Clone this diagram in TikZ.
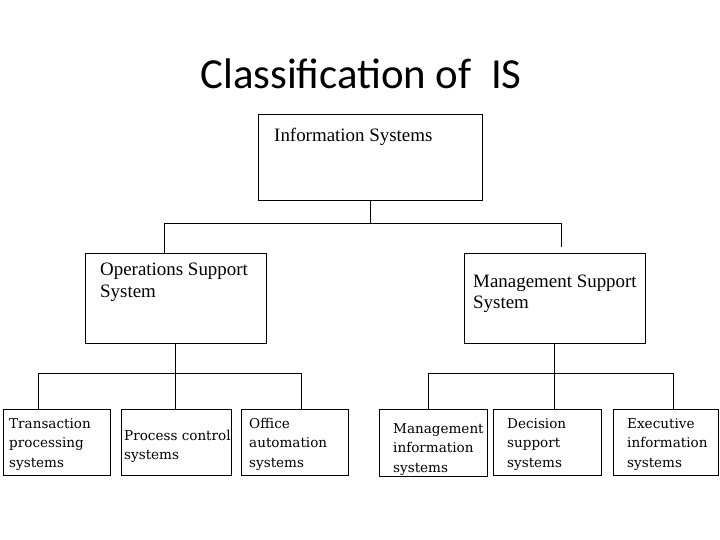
\documentclass[tikz,border=0pt]{standalone}
\usepackage{fontspec}
\setmainfont{Liberation Serif}
\newfontfamily\titlefont{Carlito}
\newfontfamily\leaffont{DejaVu Serif}
\tikzset{
  box/.style={draw, line width=1pt, inner sep=0pt},
  boxtext/.style={anchor=base west, align=left, inner sep=0pt, font=\fontsize{19}{22}\selectfont},
  leaftext/.style={anchor=base west, align=left, inner sep=0pt, font=\leaffont\fontsize{13.6}{19.5}\selectfont},
  link/.style={line width=1pt}
}
\begin{document}
\begin{tikzpicture}[x=1bp, y=-1bp]
    \useasboundingbox (0,0) rectangle (720,540);

    % Title
    \node[anchor=base, inner sep=0pt, font=\titlefont\fontsize{43}{50}\selectfont] (title) at (361,89) {Classification of\ \ IS};

    % Top level (text nodes sit on the baseline of their last line)
    \node[box, minimum width=224bp, minimum height=85bp] (is) at (370.5,157.5) {};
    \node[boxtext] (istext) at (274,142) {Information Systems};

    % Second level
    \node[box, minimum width=181bp, minimum height=90bp] (ops) at (175.5,298) {};
    \node[boxtext] (opstext) at (100,297) {Operations Support\\System};
    \node[box, minimum width=181bp, minimum height=90bp] (mss) at (554.5,298) {};
    \node[boxtext, font=\fontsize{19}{21}\selectfont] (msstext) at (473,308) {Management Support\\System};

    % Third level
    \node[box, minimum width=107bp, minimum height=66bp] (tps) at (56.5,442) {};
    \node[leaftext] (tpstext) at (9,467) {Transaction\\processing\\systems};
    \node[box, minimum width=110bp, minimum height=66bp] (pcs) at (176,442) {};
    \node[leaftext] (pcstext) at (124,459.5) {Process control\\systems};
    \node[box, minimum width=107bp, minimum height=66bp] (oas) at (294.5,442) {};
    \node[leaftext] (oastext) at (249,467) {Office\\automation\\systems};
    \node[box, minimum width=108bp, minimum height=67bp] (mis) at (433,442.5) {};
    \node[leaftext] (mistext) at (393,472) {Management\\information\\systems};
    \node[box, minimum width=108bp, minimum height=66bp] (dss) at (547,442) {};
    \node[leaftext] (dsstext) at (507,467) {Decision\\support\\systems};
    \node[box, minimum width=105bp, minimum height=66bp] (eis) at (665.5,442) {};
    \node[leaftext] (eistext) at (627,467) {Executive\\information\\systems};

    % Connectors
    \draw[link] (is.south) -- ++(0,23) coordinate (isbus);
    \coordinate (mssend) at (561,247);
    \draw[link] ([xshift=-11.5bp]ops.north) |- (isbus) -| (mssend);

    \draw[link] (ops.south) -- ++(0,30) coordinate (opsbus);
    \draw[link] ([xshift=-18.5bp]tps.north) |- (opsbus) -| ([xshift=7bp]oas.north);
    \draw[link] (opsbus) -- (opsbus |- pcs.north);

    \draw[link] (mss.south) -- ++(0,30) coordinate (mssbus);
    \draw[link] ([xshift=-5bp]mis.north) |- (mssbus) -| ([xshift=7.5bp]eis.north);
    \draw[link] (mssbus) -- (mssbus |- dss.north);
\end{tikzpicture}
\end{document}
